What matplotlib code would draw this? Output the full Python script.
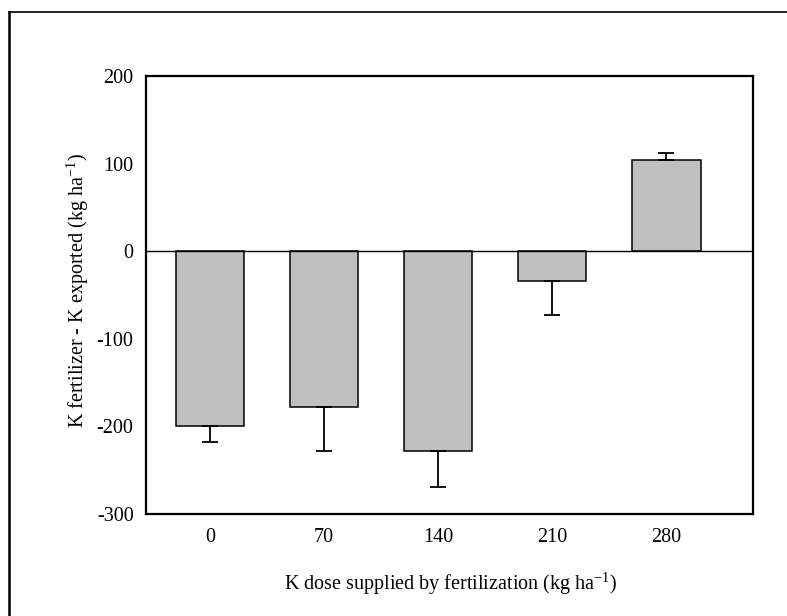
import numpy as np
import matplotlib
matplotlib.use("Agg")
import matplotlib.pyplot as plt
from matplotlib.lines import Line2D

# values
doses = ["0", "70", "140", "210", "280"]
balance = [-200, -178, -228, -34, 104]
err = [18, 50, 41, 39, 8]

plt.rcParams['font.family'] = ['Liberation Serif', 'DejaVu Serif']
plt.rcParams['mathtext.fontset'] = 'custom'
plt.rcParams['mathtext.rm'] = 'Liberation Serif'
plt.rcParams['axes.unicode_minus'] = False

fig = plt.figure(figsize=(7.87, 6.16), dpi=100)
ax = fig.add_axes([146 / 787, 1 - 514 / 616, (753 - 146) / 787, (514 - 76) / 616])

x = np.arange(len(doses))
vals = np.array(balance)
e = np.array(err)
# error bars only go away from zero
lower = np.where(vals < 0, e, 0)
upper = np.where(vals >= 0, e, 0)

ax.bar(x, vals, width=0.6, color="#c0c0c0", edgecolor="black", linewidth=1.1, zorder=2)
ax.errorbar(x, vals, yerr=[lower, upper], fmt="none", ecolor="black",
            elinewidth=1.3, capsize=6, capthick=1.3, zorder=3)
ax.axhline(0, color="black", linewidth=1.0, zorder=4)

ax.set_xlim(-0.56, 4.76)
ax.set_ylim(-300, 200)
ax.set_yticks([-300, -200, -100, 0, 100, 200])
ax.set_xticks(x)
ax.set_xticklabels(doses)
ax.tick_params(length=0, labelsize=14.5)
ax.tick_params(axis="y", pad=9)
ax.tick_params(axis="x", pad=10)
for s in ax.spines.values():
    s.set_linewidth(1.6)

fig.text(451 / 787, 1 - 584 / 616, r"K dose supplied by fertilization (kg ha$^{\mathregular{-1}}$)",
         ha="center", va="center", fontsize=14.5)
fig.text(78 / 787, 1 - 291 / 616, r"K fertilizer - K exported (kg ha$^{\mathregular{-1}}$)",
         ha="center", va="center", rotation=90, fontsize=14.5)

# frame around the figure (top and left edges visible)
fig.add_artist(Line2D([8.5 / 787, 1.0], [1 - 11.5 / 616] * 2, color="black", linewidth=1.2,
                      transform=fig.transFigure))
fig.add_artist(Line2D([8.5 / 787] * 2, [0, 1 - 11.5 / 616], color="black", linewidth=1.8,
                      transform=fig.transFigure))

fig.savefig("out.png", dpi=100)
